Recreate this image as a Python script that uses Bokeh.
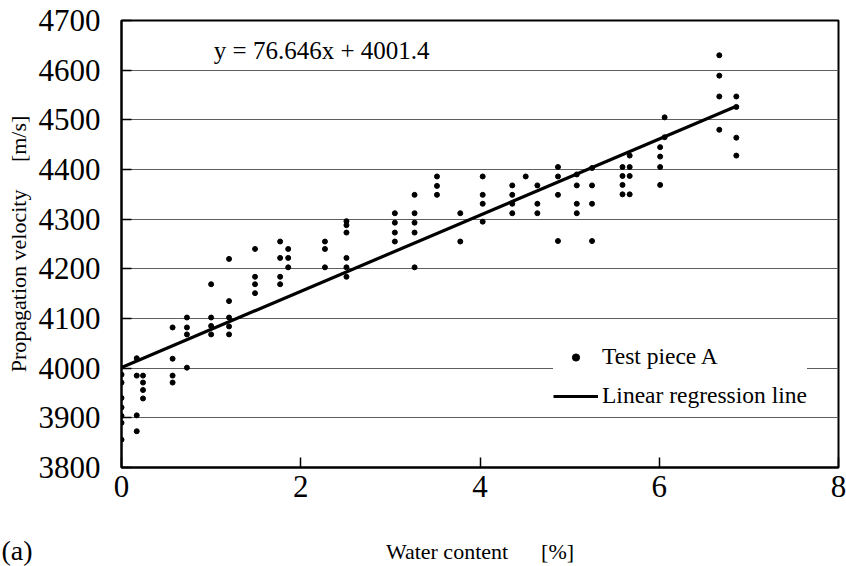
from bokeh.plotting import figure
from bokeh.models import Range1d, FixedTicker, Label, Legend, LegendItem, Title
from bokeh.embed import file_html
from bokeh.resources import INLINE

# ---- data ----
water_x = [
    0, 0, 0, 0, 0, 0, 0,
    0.17, 0.17, 0.17, 0.17,
    0.24, 0.24, 0.24, 0.24,
    0.57, 0.57, 0.57, 0.57,
    0.73, 0.73, 0.73, 0.73,
    1.00, 1.00, 1.00, 1.00,
    1.20, 1.20, 1.20, 1.20, 1.20,
    1.49, 1.49, 1.49, 1.49,
    1.77, 1.77, 1.77, 1.77,
    1.86, 1.86, 1.86,
    2.27, 2.27, 2.27,
    2.51, 2.51, 2.51, 2.51, 2.51, 2.51,
    3.05, 3.05, 3.05, 3.05,
    3.27, 3.27, 3.27, 3.27, 3.27,
    3.52, 3.52, 3.52,
    3.78, 3.78,
    4.03, 4.03, 4.03, 4.03,
    4.36, 4.36, 4.36, 4.36,
    4.51,
    4.64, 4.64, 4.64,
    4.87, 4.87, 4.87, 4.87,
    5.08, 5.08, 5.08, 5.08,
    5.25, 5.25, 5.25, 5.25,
    5.59, 5.59, 5.59, 5.59,
    5.67, 5.67, 5.67, 5.67,
    6.01, 6.01, 6.01, 6.01,
    6.06, 6.06,
    6.67, 6.67, 6.67, 6.67,
    6.86, 6.86, 6.86, 6.86,
]
velocity = [
    3987, 3971, 3940, 3921, 3904, 3890, 3856,
    4020, 3985, 3905, 3873,
    3985, 3971, 3956, 3939,
    4082, 4019, 3985, 3971,
    4102, 4082, 4068, 4001,
    4169, 4102, 4085, 4068,
    4220, 4135, 4102, 4084, 4068,
    4240, 4184, 4169, 4151,
    4255, 4222, 4184, 4169,
    4240, 4222, 4203,
    4255, 4240, 4203,
    4296, 4288, 4273, 4222, 4203, 4184,
    4312, 4293, 4273, 4255,
    4349, 4312, 4293, 4273, 4203,
    4386, 4367, 4349,
    4312, 4255,
    4386, 4349, 4331, 4295,
    4368, 4349, 4331, 4312,
    4386,
    4368, 4331, 4312,
    4405, 4386, 4349, 4256,
    4390, 4368, 4331, 4312,
    4403, 4368, 4331, 4256,
    4405, 4387, 4369, 4350,
    4428, 4405, 4387, 4350,
    4445, 4426, 4405, 4369,
    4505, 4465,
    4630, 4589, 4547, 4480,
    4547, 4526, 4464, 4428,
]
slope = 76.646
intercept = 4001.4
fit_x = [0, 6.86]
fit_y = [slope * v + intercept for v in fit_x]

x_ticks = [0, 2, 4, 6, 8]
y_ticks = [3800, 3900, 4000, 4100, 4200, 4300, 4400, 4500, 4600, 4700]
NB = "\u00a0"
equation_text = "y = 76.646x + 4001.4"
x_title = "Water content" + NB * 6 + "[%]"
y_title = "Propagation velocity" + NB * 5 + "[m/s]"
panel_tag = "(a)"

SERIF = "Liberation Serif"

p = figure(width=846, height=566, output_backend="svg", toolbar_location=None,
           x_range=Range1d(0, 8), y_range=Range1d(3800, 4700),
           min_border_left=121, min_border_right=8, min_border_top=20,
           min_border_bottom=99, background_fill_color="white",
           border_fill_color="white")

p.outline_line_color = "black"
p.outline_line_width = 2

# grid
p.xgrid.visible = False
p.ygrid.ticker = FixedTicker(ticks=y_ticks)
p.ygrid.grid_line_color = "#5e5e5e"
p.ygrid.grid_line_width = 1.2

# axes
for ax in (p.xaxis[0], p.yaxis[0]):
    ax.axis_line_color = "black"
    ax.axis_line_width = 2
    ax.major_tick_in = 10
    ax.major_tick_out = 0
    ax.minor_tick_line_color = None
    ax.major_tick_line_color = "black"
    ax.major_tick_line_width = 1.5
    ax.major_label_text_font = SERIF
    ax.major_label_text_font_size = "31px"
    ax.major_label_text_color = "black"
    ax.axis_label_text_font = SERIF
    ax.axis_label_text_font_size = "22px"
    ax.axis_label_text_font_style = "normal"
    ax.axis_label_text_color = "black"

p.xaxis.ticker = FixedTicker(ticks=x_ticks)
p.yaxis.ticker = FixedTicker(ticks=y_ticks)
p.xaxis.axis_label = x_title
p.yaxis.axis_label = y_title
p.xaxis.major_label_standoff = 8
p.yaxis.major_label_standoff = 21
p.xaxis.axis_label_standoff = 39
p.yaxis.axis_label_standoff = 5

# data
pts = p.scatter(water_x, velocity, size=5, color="black", marker="circle")
fit = p.line(fit_x, fit_y, line_color="black", line_width=3.2)

legend = Legend(items=[LegendItem(label="Test piece A", renderers=[pts]),
                       LegendItem(label="Linear regression line", renderers=[fit])],
                location=(432, 58), glyph_width=45, glyph_height=18,
                label_height=18, label_standoff=4, spacing=12, padding=8,
                margin=0, border_line_color=None, background_fill_color="white",
                background_fill_alpha=1.0, label_text_font=SERIF,
                label_text_font_size="23.5px", label_text_color="black")
p.add_layout(legend, "center")

p.add_layout(Label(x=1.03, y=4640, text=equation_text, text_font=SERIF,
                   text_font_size="25px", text_baseline="middle",
                   text_color="black"))

tag = Title(text=panel_tag, align="left", offset=-120, standoff=-64,
            vertical_align="top", text_font=SERIF, text_font_size="28px",
            text_font_style="normal", text_color="black")
p.add_layout(tag, "below")

open("out.html", "w").write(file_html(p, INLINE))
